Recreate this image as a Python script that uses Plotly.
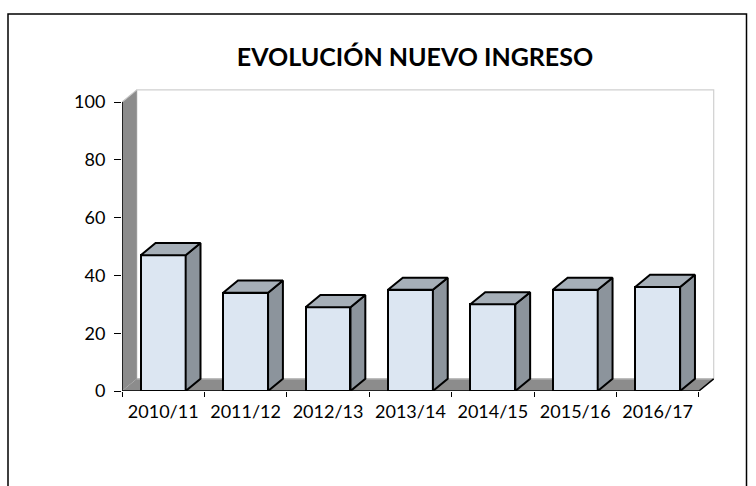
import plotly.graph_objects as go

# ---- data ----
categories = ["2010/11", "2011/12", "2012/13", "2013/14", "2014/15", "2015/16", "2016/17"]
values = [47, 34, 29, 35, 30, 35, 36]
y_ticks = [0, 20, 40, 60, 80, 100]
title_text = "EVOLUCIÓN NUEVO INGRESO"

# ---- style / geometry ----
W, H = 756, 486
ML, MR, MT, MB = 122, 39, 89, 95
bar_w = 0.545
dx, dy = 0.18, 4.2          # depth offset (x units, y units)
x_min, x_max = -0.5, 6.5 + dx + 0.04
y_top = 100 + dy + 0.3
front_col = "#dce6f2"
top_col = "#a6afb8"
side_col = "#8c949c"
wall_col = "#8c8c8c"
font_fam = "Lato, 'Open Sans', sans-serif"

n = len(categories)
xs = list(range(n))

fig = go.Figure()

# back wall outline (light gray)
fig.add_trace(go.Scatter(
    x=[x_min + dx, x_min + dx, 6.5 + dx, 6.5 + dx],
    y=[dy, 100 + dy, 100 + dy, dy],
    mode="lines", line=dict(color="#d0d0d0", width=1.2),
    hoverinfo="skip", showlegend=False, xaxis="x", yaxis="y"))
# floor
fig.add_trace(go.Scatter(
    x=[-0.5, 6.5, 6.5 + dx, -0.5 + dx, -0.5],
    y=[0, 0, dy, dy, 0],
    mode="lines", fill="toself", fillcolor=wall_col,
    line=dict(color=wall_col, width=0),
    hoverinfo="skip", showlegend=False, xaxis="x", yaxis="y"))
# floor back edge (lighter)
fig.add_trace(go.Scatter(
    x=[-0.5 + dx, 6.5 + dx], y=[dy, dy],
    mode="lines", line=dict(color="#bdbdbd", width=1.5),
    hoverinfo="skip", showlegend=False, xaxis="x", yaxis="y"))
# left wall
fig.add_trace(go.Scatter(
    x=[-0.5, -0.5, -0.5 + dx, -0.5 + dx, -0.5],
    y=[0, 100, 100 + dy, dy, 0],
    mode="lines", fill="toself", fillcolor=wall_col,
    line=dict(color=wall_col, width=0),
    hoverinfo="skip", showlegend=False, xaxis="x", yaxis="y"))
# left wall top edge light
fig.add_trace(go.Scatter(
    x=[-0.5, -0.5 + dx], y=[100, 100 + dy],
    mode="lines", line=dict(color="#c8c8c8", width=1.2),
    hoverinfo="skip", showlegend=False, xaxis="x", yaxis="y"))
# floor front edge + right diagonal, y axis line (black)
fig.add_trace(go.Scatter(
    x=[-0.5, 6.5, 6.5 + dx], y=[0, 0, dy],
    mode="lines", line=dict(color="black", width=1.5),
    hoverinfo="skip", showlegend=False, xaxis="x", yaxis="y"))
fig.add_trace(go.Scatter(
    x=[-0.5, -0.5], y=[0, 100],
    mode="lines", line=dict(color="black", width=1.5),
    hoverinfo="skip", showlegend=False, xaxis="x", yaxis="y"))

# ---- bars (overlay subplot so they sit above floor/walls) ----
fig.add_trace(go.Bar(
    x=xs, y=values, width=bar_w,
    marker=dict(color=front_col, line=dict(color="black", width=2)),
    hoverinfo="skip", showlegend=False, xaxis="x2", yaxis="y"))
for xi, v in zip(xs, values):
    l, r = xi - bar_w / 2, xi + bar_w / 2
    # side face
    fig.add_trace(go.Scatter(
        x=[r, r + dx, r + dx, r, r], y=[0, dy, v + dy, v, 0],
        mode="lines", fill="toself", fillcolor=side_col,
        line=dict(color="black", width=2),
        hoverinfo="skip", showlegend=False, xaxis="x2", yaxis="y"))
    # top face
    fig.add_trace(go.Scatter(
        x=[l, l + dx, r + dx, r, l], y=[v, v + dy, v + dy, v, v],
        mode="lines", fill="toself", fillcolor=top_col,
        line=dict(color="black", width=2),
        hoverinfo="skip", showlegend=False, xaxis="x2", yaxis="y"))

# frame around the whole chart
pw = W - ML - MR
ph = H - MT - MB
def px_to_paper_x(p):
    return (p - ML) / pw
def px_to_paper_y(p):
    return (H - MB - p) / ph

fig.add_shape(type="rect", xref="paper", yref="paper",
              x0=px_to_paper_x(8), x1=px_to_paper_x(746.5),
              y0=px_to_paper_y(492), y1=px_to_paper_y(14),
              line=dict(color="black", width=1.5), fillcolor="rgba(0,0,0,0)", layer="above")

fig.update_layout(
    width=W, height=H,
    margin=dict(l=ML, r=MR, t=MT, b=MB),
    paper_bgcolor="white", plot_bgcolor="white",
    title=dict(text=title_text, x=(415 - ML) / pw, xref="paper", xanchor="center",
               y=1 - 57 / H, yanchor="middle",
               font=dict(family=font_fam, size=25, color="black", weight="bold")),
    bargap=0,
    xaxis=dict(range=[x_min, x_max], tickvals=[i - 0.5 for i in range(n + 1)],
               showticklabels=False, ticks="outside", ticklen=5, tickcolor="black",
               tickwidth=1.2, showgrid=False, zeroline=False, showline=False),
    xaxis2=dict(range=[x_min, x_max], overlaying="x", anchor="y", side="bottom",
                tickvals=xs, ticktext=categories, ticks="", showgrid=False,
                zeroline=False, showline=False, ticklabelstandoff=8,
                tickfont=dict(family=font_fam, size=18, color="black")),
    yaxis=dict(range=[0, y_top], tickvals=y_ticks, ticks="outside", ticklen=7,
               tickcolor="black", tickwidth=1.2, showgrid=False, zeroline=False,
               showline=False, ticklabelstandoff=5,
               tickfont=dict(family=font_fam, size=18, color="black")),
)

fig.write_html("out.html", config={"displayModeBar": False},
               post_script="document.body.style.margin='0px';")
